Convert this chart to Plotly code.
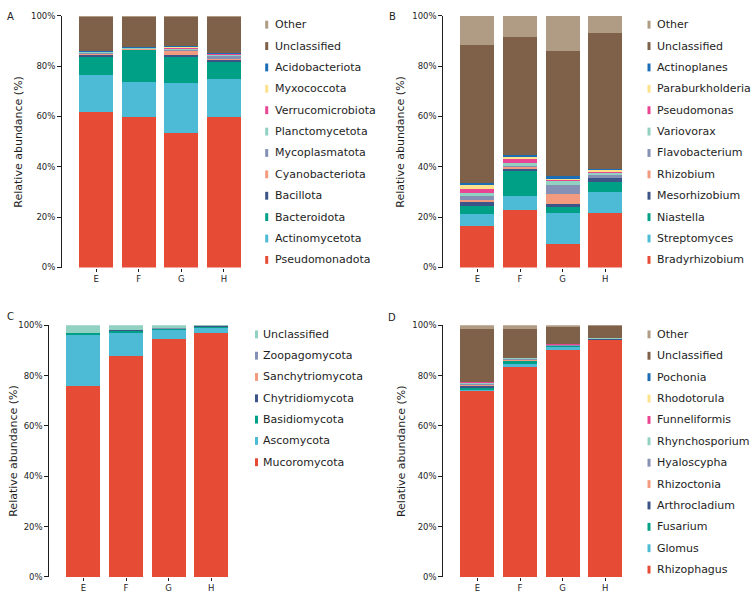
import plotly.graph_objects as go

W, H = 752, 596
FONT = "DejaVu Sans"
INK = "#1e1e1e"

samples = ["E", "F", "G", "H"]

# ---------------- Panel A (bacteria, phylum) : bottom -> top ----------------
a_taxa = ["Pseudomonadota", "Actinomycetota", "Bacteroidota", "Bacillota",
          "Cyanobacteriota", "Mycoplasmatota", "Planctomycetota",
          "Verrucomicrobiota", "Myxococcota", "Acidobacteriota",
          "Unclassified", "Other"]
a_values = [
    [61.8, 59.9, 53.3, 59.8],   # Pseudomonadota
    [14.6, 13.9, 20.1, 15.1],   # Actinomycetota
    [7.7, 12.8, 10.5, 6.7],     # Bacteroidota
    [0.7, 0.2, 0.4, 1.2],       # Bacillota
    [0.3, 0.2, 2.1, 0.2],       # Cyanobacteriota
    [0.3, 0.2, 0.4, 1.4],       # Mycoplasmatota
    [0.3, 0.2, 0.4, 0.3],       # Planctomycetota
    [0.2, 0.2, 0.4, 0.3],       # Verrucomicrobiota
    [0.1, 0.05, 0.1, 0.1],      # Myxococcota
    [0.2, 0.05, 0.2, 0.1],      # Acidobacteriota
    [13.7, 12.2, 12.0, 14.7],   # Unclassified
    [0.1, 0.1, 0.1, 0.1],       # Other
]

# ---------------- Panel B (bacteria, genus) ----------------
b_taxa = ["Bradyrhizobium", "Streptomyces", "Niastella", "Mesorhizobium",
          "Rhizobium", "Flavobacterium", "Variovorax", "Pseudomonas",
          "Paraburkholderia", "Actinoplanes", "Unclassified", "Other"]
b_values = [
    [16.3, 22.8, 9.4, 21.6],
    [4.8, 5.5, 12.3, 8.5],
    [3.4, 10.0, 2.3, 3.8],
    [1.6, 1.1, 1.4, 1.8],
    [0.9, 0.7, 3.9, 0.3],
    [1.4, 0.3, 3.4, 0.6],
    [1.4, 1.0, 1.5, 0.8],
    [1.2, 1.6, 0.9, 0.9],
    [2.0, 1.3, 0.1, 0.6],
    [0.6, 0.6, 1.0, 0.3],
    [54.9, 46.6, 49.9, 54.0],
    [11.5, 8.5, 13.9, 6.8],
]

# ---------------- Panel C (fungi, phylum) ----------------
c_taxa = ["Mucoromycota", "Ascomycota", "Basidiomycota", "Chytridiomycota",
          "Sanchytriomycota", "Zoopagomycota", "Unclassified"]
c_values = [
    [75.7, 87.9, 94.7, 96.9],
    [20.3, 9.1, 3.5, 2.3],
    [0.9, 1.0, 0.4, 0.4],
    [0.05, 0.05, 0.05, 0.05],
    [0.05, 0.05, 0.05, 0.05],
    [0.05, 0.05, 0.05, 0.05],
    [2.95, 1.85, 1.25, 0.25],
]

# ---------------- Panel D (fungi, genus) ----------------
d_taxa = ["Rhizophagus", "Glomus", "Fusarium", "Arthrocladium", "Rhizoctonia",
          "Hyaloscypha", "Rhynchosporium", "Funneliformis", "Rhodotorula",
          "Pochonia", "Unclassified", "Other"]
d_values = [
    [73.8, 83.6, 90.0, 94.1],
    [0.5, 1.0, 1.6, 0.2],
    [0.9, 1.1, 0.1, 0.1],
    [0.8, 0.2, 0.1, 0.2],
    [0.5, 0.2, 0.2, 0.05],
    [0.4, 0.7, 0.3, 0.1],
    [0.4, 0.1, 0.1, 0.05],
    [0.1, 0.05, 0.1, 0.0],
    [0.05, 0.0, 0.0, 0.0],
    [0.05, 0.05, 0.0, 0.0],
    [21.2, 11.7, 7.1, 5.1],
    [1.3, 1.3, 0.4, 0.1],
]

y_ticks = [0, 20, 40, 60, 80, 100]
y_tick_labels = ["0%", "20%", "40%", "60%", "80%", "100%"]

palette12 = ["#E64B35", "#4DBBD5", "#00A087", "#3C5488", "#F39B7F", "#8491B4",
             "#91D1C2", "#EA4593", "#FCE28A", "#1B6DB5", "#7E6148", "#B09C85"]
palette7 = palette12[:7]

panels = [
    dict(letter="A", taxa=a_taxa, values=a_values, colors=palette12,
         xd=(62, 258), yd=(11, 267), ylab_x=19, letter_xy=(10, 12),
         mk_x=266.7, tx_x=274.0, leg_y0=20.0, leg_dy=21.75),
    dict(letter="B", taxa=b_taxa, values=b_values, colors=palette12,
         xd=(443.3, 639.3), yd=(11, 267), ylab_x=401, letter_xy=(392, 12),
         mk_x=649.0, tx_x=656.0, leg_y0=20.0, leg_dy=21.75),
    dict(letter="C", taxa=c_taxa, values=c_values, colors=palette7,
         xd=(49.3, 245.3), yd=(325.7, 581.7), ylab_x=12.7, letter_xy=(10, 317),
         mk_x=256.5, tx_x=262.0, leg_y0=335.0, leg_dy=21.67),
    dict(letter="D", taxa=d_taxa, values=d_values, colors=palette12,
         xd=(443.3, 639.3), yd=(325.7, 581.7), ylab_x=401, letter_xy=(392, 318),
         mk_x=649.0, tx_x=656.0, leg_y0=335.0, leg_dy=21.75),
]


def px_x(p):
    return p / W


def px_y(p):
    return 1 - p / H


fig = go.Figure()
annotations = []
shapes = []
layout_axes = {}

for i, p in enumerate(panels):
    n = "" if i == 0 else str(i + 1)
    xref, yref = "x" + n, "y" + n
    for taxon, vals, col in zip(p["taxa"], p["values"], p["colors"]):
        fig.add_trace(go.Bar(
            x=samples, y=vals, name=taxon, width=0.8,
            marker=dict(color=col, line=dict(width=0)),
            showlegend=False, xaxis=xref, yaxis=yref,
            hovertemplate=taxon + " %{x}: %{y}%<extra></extra>"))

    layout_axes["xaxis" + n] = dict(
        domain=[px_x(p["xd"][0]), px_x(p["xd"][1])], anchor=yref,
        type="category", range=[-0.8, 3.8], showline=False, showgrid=False,
        zeroline=False, ticks="outside", ticklen=3, tickwidth=1, tickcolor=INK,
        tickfont=dict(size=8.5, color=INK, family=FONT))
    layout_axes["yaxis" + n] = dict(
        domain=[px_y(p["yd"][1]), px_y(p["yd"][0])], anchor=xref,
        range=[0, 100], showline=True, linecolor=INK, linewidth=1,
        showgrid=False, zeroline=False, ticks="outside", ticklen=4,
        tickwidth=1, tickcolor=INK, tickmode="array", tickvals=y_ticks,
        ticktext=y_tick_labels,
        tickfont=dict(size=8.5, color=INK, family=FONT))

    # y-axis title
    annotations.append(dict(
        text="Relative abundance (%)", textangle=-90, showarrow=False,
        xref="paper", yref="paper", x=px_x(p["ylab_x"]),
        y=px_y((p["yd"][0] + p["yd"][1]) / 2),
        xanchor="center", yanchor="middle",
        font=dict(size=11, color=INK, family=FONT)))
    # panel letter
    annotations.append(dict(
        text=p["letter"], showarrow=False, xref="paper", yref="paper",
        x=px_x(p["letter_xy"][0]), y=px_y(p["letter_xy"][1]),
        xanchor="center", yanchor="middle",
        font=dict(size=10, color=INK, family=FONT)))

    # legend (top -> bottom = reversed stacking order)
    for k, (taxon, col) in enumerate(zip(p["taxa"][::-1], p["colors"][::-1])):
        cy = p["leg_y0"] + k * p["leg_dy"]
        shapes.append(dict(
            type="rect", xref="paper", yref="paper",
            x0=px_x(p["mk_x"] - 1.5), x1=px_x(p["mk_x"] + 1.5),
            y0=px_y(cy + 4), y1=px_y(cy - 4),
            fillcolor=col, line=dict(width=0)))
        annotations.append(dict(
            text=taxon, showarrow=False, xref="paper", yref="paper",
            x=px_x(p["tx_x"]), y=px_y(cy), xanchor="left", yanchor="middle",
            borderpad=0, font=dict(size=11, color=INK, family=FONT)))

fig.update_layout(
    width=W, height=H, margin=dict(l=0, r=0, t=0, b=0),
    paper_bgcolor="white", plot_bgcolor="white", barmode="stack",
    bargap=0.2, showlegend=False, font=dict(family=FONT, color=INK),
    annotations=annotations, shapes=shapes, **layout_axes)

fig.write_html("out.html")
